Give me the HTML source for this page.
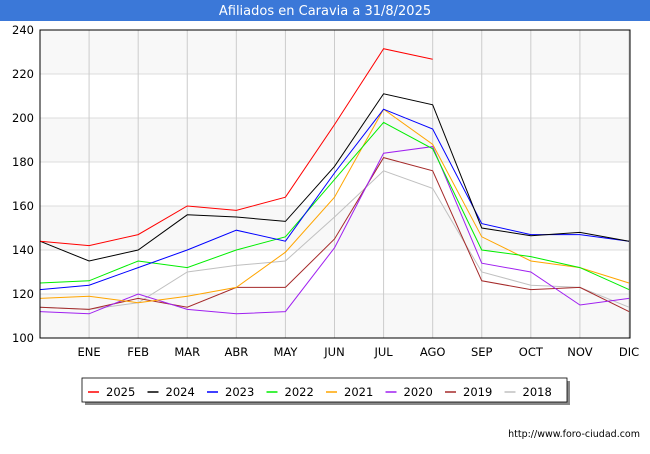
<!DOCTYPE html>
<html><head><meta charset="utf-8"><style>
body{margin:0;background:#fff;font-family:"DejaVu Sans","Liberation Sans",sans-serif;}
svg text{font-family:"DejaVu Sans","Liberation Sans",sans-serif;}
</style></head><body>
<svg id="chart" width="650" height="450" xmlns="http://www.w3.org/2000/svg">
<rect x="0" y="0" width="650" height="450" fill="#fff"/>
<rect x="0" y="0" width="650" height="21" fill="#3b78d8"/>
<text x="325" y="15" text-anchor="middle" fill="#fff" font-size="13">Afiliados en Caravia a 31/8/2025</text>
<g id="grid"></g>
<g id="series"></g>
<rect x="40" y="30" width="590" height="308" fill="none" stroke="#000" stroke-width="1"/>
<g id="legend">
<rect x="85" y="381" width="485" height="24" fill="#888"/>
<rect x="82" y="378" width="485" height="24" fill="#fff" stroke="#000" stroke-width="0.8"/>
</g>
<text x="640" y="437" text-anchor="end" font-size="9.5" fill="#000">http://www.foro-ciudad.com</text>
</svg>
<script>
const months = ["","ENE","FEB","MAR","ABR","MAY","JUN","JUL","AGO","SEP","OCT","NOV","DIC"];
const yTicks = [100,120,140,160,180,200,220,240];
const seriesNames = ["2025","2024","2023","2022","2021","2020","2019","2018"];
const seriesColors = ["#ff0000","#000000","#0000ff","#00ee00","#ffa500","#a020f0","#a52a2a","#c0c0c0"];
const s2025 = [144,142,147,160,158,164,197,231.5,226.7];
const s2024 = [144,135,140,156,155,153,178,211,206,150,146.5,148,144];
const s2023 = [122,124,132,140,149,144,175,204,195,152,147,147,144];
const s2022 = [125,126,135,132,140,146,172,198,186,140,137,132,122];
const s2021 = [118,119,116,119,123,139,164,204,188,146,135,132,125];
const s2020 = [112,111,120,113,111,112,141,184,187,134,130,115,118];
const s2019 = [114,113,118,114,123,123,145,182,176,126,122,123,112];
const s2018 = [114,113,116,130,133,135,155,176,168,130,124,123,114];
const allSeries = [s2025,s2024,s2023,s2022,s2021,s2020,s2019,s2018];
const NS="http://www.w3.org/2000/svg";
const x0=40,x1=629,yT=30,yB=338,yMin=100,yMax=240;
const xs=i=>x0+i*(x1-x0)/(months.length-1);
const ys=v=>yB-(v-yMin)/(yMax-yMin)*(yB-yT);
function mk(t,a,p){const e=document.createElementNS(NS,t);for(const k in a)e.setAttribute(k,a[k]);p.appendChild(e);return e;}
const grid=document.getElementById('grid');
for(let i=0;i<yTicks.length-1;i++){
  if(i%2==0){const r=mk('rect',{x:x0,y:ys(yTicks[i+1]),width:x1-x0+1,height:ys(yTicks[i])-ys(yTicks[i+1]),fill:'#f8f8f8'},grid);
  
  }
}
yTicks.forEach(v=>{
  const l=mk('line',{x1:x0,x2:x1+1,y1:ys(v),y2:ys(v),stroke:'#ddd'},grid);
  
  
  const t=mk('text',{x:x0-6,y:ys(v)+4,'text-anchor':'end','font-size':'11.5',fill:'#000'},grid);
  t.textContent=v;
  
  
});
months.forEach((m,i)=>{
  if(i==0)return;
  const l=mk('line',{x1:xs(i),x2:xs(i),y1:yT,y2:yB,stroke:'#ccc'},grid);
  
  
  const t=mk('text',{x:xs(i),y:356,'text-anchor':'middle','font-size':'11.5',fill:'#000'},grid);
  t.textContent=m;
  
  
});
const sg=document.getElementById('series');
for(let k=allSeries.length-1;k>=0;k--){
  const pts=allSeries[k].map((v,i)=>xs(i)+','+ys(v)).join(' ');
  const p=mk('polyline',{points:pts,fill:'none',stroke:seriesColors[k],'stroke-width':'1'},sg);
  
  
}
const lg=document.getElementById('legend');
seriesNames.forEach((n,k)=>{
  const lx=88+k*59.5;
  const l=mk('line',{x1:lx,x2:lx+11,y1:392,y2:392,stroke:seriesColors[k],'stroke-width':'1.5'},lg);
  
  
  const t=mk('text',{x:lx+18,y:396,'font-size':'11.5',fill:'#000'},lg);
  t.textContent=n;
  
  
});
</script>
</body></html>
